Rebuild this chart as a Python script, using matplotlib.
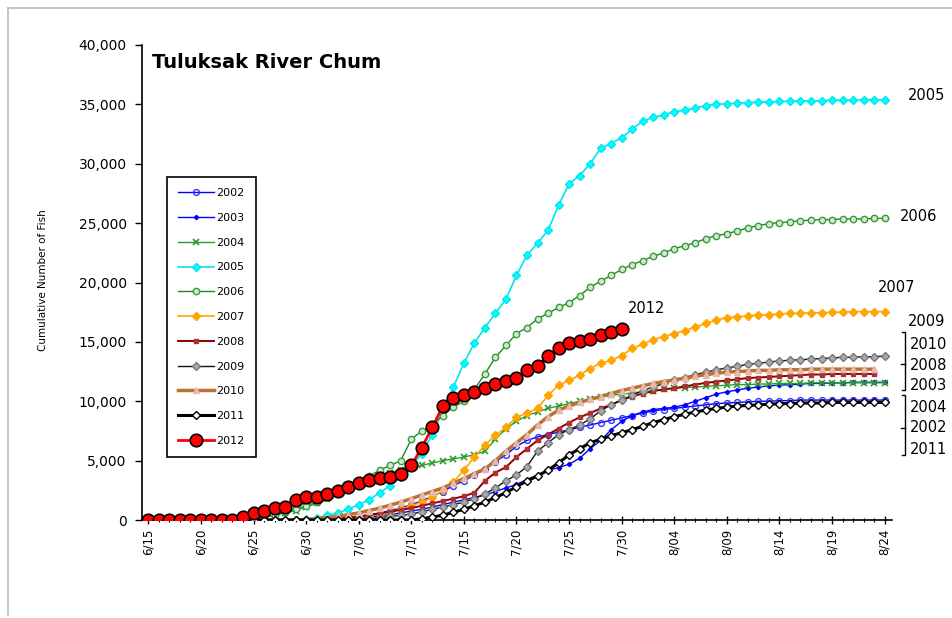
import matplotlib
matplotlib.use("Agg")
import matplotlib.pyplot as plt
from matplotlib.lines import Line2D

# ---------------- data ----------------
n_days = 71
days = list(range(n_days))
tick_days = list(range(0, 71, 5))
tick_labels = ["6/15", "6/20", "6/25", "6/30", "7/05", "7/10", "7/15", "7/20",
               "7/25", "7/30", "8/04", "8/09", "8/14", "8/19", "8/24"]

y2002 = [0]*17 + [50, 100, 200, 300, 450, 600, 800, 1000, 1300, 1600, 2000, 2400, 2900, 3300,
                  3800, 4300, 4900, 5500, 6200, 6700, 7000, 7200, 7400, 7600, 7800, 8000, 8200,
                  8400, 8600, 8800, 9000, 9200, 9300, 9400, 9500, 9600, 9700, 9800, 9850, 9900,
                  9950, 10000, 10000, 10050, 10050, 10100, 10100, 10100, 10100, 10100, 10100,
                  10100, 10100, 10100]
y2003 = [0]*18 + [50, 100, 150, 250, 350, 450, 600, 750, 900, 1100, 1300, 1500, 1700, 1900,
                  2100, 2400, 2700, 3000, 3400, 3800, 4200, 4400, 4700, 5200, 6000, 6700, 7600,
                  8300, 8800, 9100, 9300, 9400, 9500, 9700, 10000, 10300, 10600, 10800, 10950,
                  11100, 11200, 11300, 11350, 11400, 11450, 11500, 11500, 11550, 11550, 11600,
                  11600, 11600, 11600]
y2004 = [0]*10 + [100, 250, 400, 600, 800, 1100, 1400, 1800, 2200, 2600, 3000, 3350, 3700,
                  3950, 4200, 4450, 4600, 4800, 5000, 5150, 5300, 5500, 5800, 6800, 7700, 8300,
                  8800, 9100, 9400, 9600, 9800, 10000, 10200, 10350, 10500, 10600, 10700, 10800,
                  10900, 11000, 11100, 11150, 11200, 11250, 11300, 11350, 11400, 11400, 11450,
                  11450, 11500, 11500, 11500, 11550, 11550, 11550, 11550, 11550, 11550, 11550,
                  11550]
y2005 = [0]*15 + [100, 200, 400, 600, 900, 1300, 1700, 2300, 2900, 3600, 4500, 5600, 7200,
                  9200, 11200, 13200, 14900, 16200, 17400, 18600, 20600, 22300, 23300, 24400,
                  26500, 28300, 29000, 30000, 31300, 31700, 32200, 32900, 33600, 33900, 34100,
                  34400, 34500, 34700, 34900, 35000, 35050, 35100, 35150, 35200, 35200, 35250,
                  35250, 35300, 35300, 35300, 35350, 35350, 35350, 35400, 35400, 35400]
y2006 = [0]*10 + [100, 250, 400, 650, 900, 1200, 1500, 1900, 2300, 2750, 3200, 3700, 4200,
                  4600, 5000, 6800, 7500, 8000, 8800, 9500, 10000, 11000, 12300, 13700, 14700,
                  15700, 16200, 16950, 17400, 17900, 18300, 18900, 19600, 20100, 20600, 21100,
                  21500, 21850, 22200, 22500, 22850, 23100, 23350, 23700, 23950, 24100, 24350,
                  24600, 24800, 24950, 25050, 25100, 25200, 25250, 25300, 25300, 25350, 25350,
                  25350, 25400, 25400]
y2007 = [0]*18 + [100, 150, 250, 350, 500, 700, 900, 1200, 1500, 1900, 2500, 3200, 4200, 5300,
                  6300, 7150, 7800, 8650, 9000, 9400, 10500, 11350, 11750, 12200, 12750, 13200,
                  13450, 13850, 14450, 14800, 15200, 15450, 15700, 15950, 16250, 16550, 16850,
                  17050, 17100, 17200, 17250, 17300, 17350, 17400, 17400, 17450, 17450, 17500,
                  17500, 17550, 17550, 17550, 17550]
y2008 = [0]*17 + [50, 100, 200, 300, 400, 550, 700, 850, 1000, 1200, 1400, 1600, 1800, 2000,
                  2300, 3300, 4000, 4450, 5300, 6000, 6700, 7200, 7700, 8200, 8650, 9000, 9400,
                  9700, 10100, 10400, 10650, 10850, 11000, 11100, 11250, 11400, 11550, 11650,
                  11750, 11850, 11950, 12000, 12050, 12100, 12150, 12200, 12250, 12250, 12300,
                  12300, 12300, 12300, 12300]
y2009 = [0]*20 + [50, 100, 200, 300, 400, 500, 700, 900, 1100, 1300, 1500, 1800, 2200, 2700,
                  3300, 3800, 4500, 5800, 6500, 7200, 7600, 8000, 8500, 9200, 9700, 10100, 10500,
                  10900, 11200, 11500, 11800, 12000, 12250, 12450, 12650, 12800, 12950, 13100,
                  13200, 13300, 13400, 13450, 13500, 13550, 13600, 13650, 13700, 13700, 13750,
                  13750, 13800]
y2010 = [0]*15 + [50, 100, 200, 300, 450, 600, 800, 1000, 1250, 1500, 1800, 2100, 2400, 2700,
                  3100, 3500, 3900, 4300, 5000, 5800, 6500, 7200, 8000, 8700, 9250, 9600, 9900,
                  10150, 10400, 10650, 10900, 11100, 11300, 11500, 11650, 11800, 11950, 12100,
                  12250, 12350, 12450, 12500, 12550, 12600, 12600, 12650, 12650, 12650, 12700,
                  12700, 12700, 12700, 12700, 12700, 12700]
y2011 = [0]*26 + [100, 250, 400, 650, 900, 1200, 1500, 1900, 2300, 2800, 3300, 3700, 4200,
                  4800, 5500, 6000, 6500, 6800, 7100, 7350, 7600, 7900, 8200, 8450, 8700, 8900,
                  9100, 9250, 9400, 9500, 9600, 9650, 9700, 9750, 9800, 9800, 9850, 9850, 9850,
                  9900, 9900, 9900, 9900, 9900, 9900]
y2012 = [0]*9 + [250, 550, 750, 1000, 1100, 1700, 1950, 1950, 2200, 2450, 2800, 3100, 3400,
                 3550, 3600, 3850, 4600, 6100, 7800, 9600, 10300, 10500, 10750, 11100, 11450,
                 11700, 12000, 12600, 13000, 13800, 14450, 14900, 15100, 15250, 15550, 15800,
                 16050]

years = ["2002", "2003", "2004", "2005", "2006", "2007", "2008", "2009", "2010", "2011", "2012"]
series = [y2002, y2003, y2004, y2005, y2006, y2007, y2008, y2009, y2010, y2011, y2012]

right_labels = ["2005", "2006", "2007", "2009", "2010", "2008", "2003", "2004", "2002", "2011"]

# ---------------- styles ----------------
styles = {
    "2002": dict(color="#0000FF", lw=1.0, marker="o", ms=4.2, mfc="none", mec="#3333FF", mew=1.0),
    "2003": dict(color="#0000FF", lw=1.0, marker="D", ms=2.2, mfc="#0000FF", mec="#0000FF"),
    "2004": dict(color="#2E9A2E", lw=1.0, marker="x", ms=4.2, mec="#2E9A2E", mew=1.2),
    "2005": dict(color="#00E5EE", lw=1.2, marker="D", ms=4.2, mfc="#00FFFF", mec="#00E5EE"),
    "2006": dict(color="#1E8B1E", lw=1.0, marker="o", ms=4.6, mfc="#D0E8D0", mec="#3C9A3C", mew=1.0),
    "2007": dict(color="#FFA500", lw=1.2, marker="D", ms=4.2, mfc="#FFA500", mec="#FFA500"),
    "2008": dict(color="#8B0000", lw=1.4, marker="s", ms=2.5, mfc="#B03030", mec="#B03030"),
    "2009": dict(color="#111111", lw=1.0, marker="D", ms=4.2, mfc="#AAAAAA", mec="#777777"),
    "2010": dict(color="#B8732E", lw=2.5, marker="^", ms=4, mfc="#E8B8B0", mec="#E8B8B0"),
    "2011": dict(color="#000000", lw=2.2, marker="D", ms=4.2, mfc="white", mec="#000000", mew=1.0),
    "2012": dict(color="#FF0000", lw=2.0, marker="o", ms=9, mfc="#FF0000", mec="#000000", mew=1.2),
}

# ---------------- figure ----------------
W, H = 953, 618
fig = plt.figure(figsize=(W/100, H/100), dpi=100)
fig.patch.set_facecolor("white")

# light grey frame of the pasted picture
fig.add_artist(Line2D([8/W, 8/W], [1-8/H, 1-615/H], transform=fig.transFigure,
                      color="#BBBBBB", lw=1.2))
fig.add_artist(Line2D([8/W, 1.0], [1-8/H, 1-8/H], transform=fig.transFigure,
                      color="#BBBBBB", lw=1.2))

ax_l, ax_r = 142, 892
ax_b, ax_t = 520, 45
ax = fig.add_axes([ax_l/W, 1-ax_b/H, (ax_r-ax_l)/W, (ax_b-ax_t)/H])

handles = []
for yr, vals in zip(years, series):
    xs = days[:len(vals)]
    z = 5 if yr == "2012" else 3
    h, = ax.plot(xs, vals, label=yr, zorder=z, **styles[yr])
    handles.append(h)

ax.set_xlim(-0.6, 70.7)
ax.set_ylim(0, 40000)
ax.set_yticks(range(0, 40001, 5000))
ax.set_yticklabels([f"{v:,}" for v in range(0, 40001, 5000)], fontsize=10,
                   family="DejaVu Sans")
ax.set_xticks(tick_days)
ax.set_xticklabels(tick_labels, rotation=90, fontsize=8.5, family="DejaVu Sans")
ax.set_xticks(days, minor=True)
ax.tick_params(axis="x", which="major", length=6, width=1, direction="inout")
ax.tick_params(axis="x", which="minor", length=3, width=0.8, direction="inout")
ax.tick_params(axis="y", which="major", length=5, width=1, direction="out", pad=6)
for s in ["top", "right"]:
    ax.spines[s].set_visible(False)
for s in ["left", "bottom"]:
    ax.spines[s].set_linewidth(1.2)

ax.set_ylabel("Cumulative Number of Fish", fontsize=7.5, family="DejaVu Sans")
ax.yaxis.set_label_coords((48-ax_l)/(ax_r-ax_l), 1-(280-ax_t)/(ax_b-ax_t))

fig.text(152/W, 1-62/H, "Tuluksak River Chum",
         fontsize=14, fontweight="bold", family="DejaVu Sans", va="center", ha="left")

leg = ax.legend(handles=handles, loc="upper left",
                bbox_to_anchor=((167-ax_l)/(ax_r-ax_l), 1-(177-ax_t)/(ax_b-ax_t)),
                frameon=True, fancybox=False, edgecolor="black", fontsize=8,
                handlelength=3.2, labelspacing=1.33, borderpad=1.0, handletextpad=0.25,
                borderaxespad=0, framealpha=1)
leg.get_frame().set_linewidth(1.2)

def px(xp, yp):
    return xp/W, 1-yp/H

lab_pos = {"2005": (908, 96), "2006": (900, 216), "2007": (878, 287),
           "2009": (908, 322), "2010": (910, 344), "2008": (910, 365), "2003": (910, 385),
           "2004": (910, 407), "2002": (910, 428), "2011": (910, 449)}
for yr in right_labels:
    xp, yp = lab_pos[yr]
    fig.text(*px(xp, yp), yr, fontsize=10.5, family="DejaVu Sans", va="center", ha="left")
fig.text(*px(628, 308), "2012", fontsize=10.5, family="DejaVu Sans", va="center", ha="left")

def bracket(x, y0, y1, ym):
    fig.add_artist(Line2D([x/W - 3/W, x/W, x/W, x/W - 3/W],
                          [1-y0/H, 1-y0/H, 1-y1/H, 1-y1/H],
                          transform=fig.transFigure, color="black", lw=1.0))
    fig.add_artist(Line2D([x/W, x/W - 4/W], [1-ym/H, 1-ym/H],
                          transform=fig.transFigure, color="black", lw=1.0))

bracket(905, 332, 390, 364)
bracket(905, 395, 455, 428)

fig.savefig("out.png", dpi=100)
